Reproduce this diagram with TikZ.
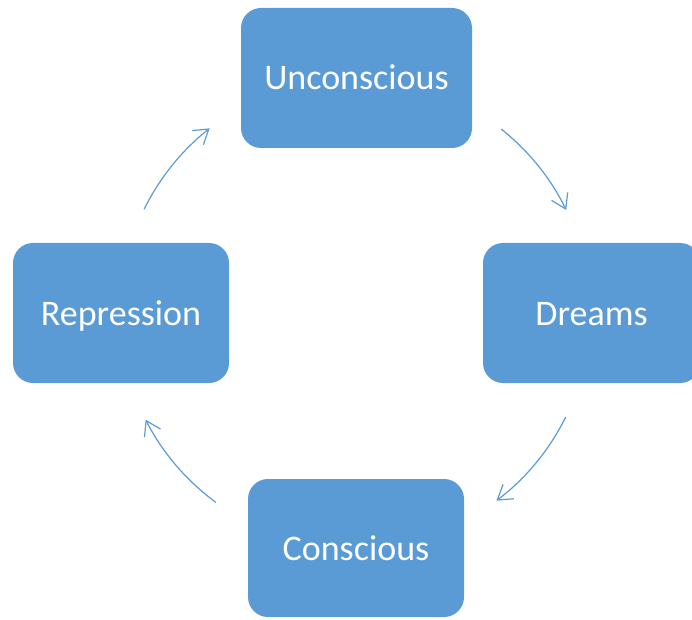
\documentclass[tikz,border=0pt]{standalone}
\usepackage{fontspec}
\setmainfont{Carlito}
\usetikzlibrary{arrows.meta,calc}
\definecolor{officeblue}{HTML}{5B9BD5}
\tikzset{
  stagebox/.style={rectangle, fill=officeblue, rounded corners=20pt, inner sep=0pt,
    minimum height=140pt, text=white, font=\fontsize{36}{40}\selectfont,
    text height=29pt, text depth=5pt},
  cyclearrow/.style={draw=officeblue, line width=1.2pt,
    -{Straight Barb[length=14pt,width=18pt,line width=1.2pt]}}
}
\begin{document}
\begin{tikzpicture}[x=1pt,y=1pt]
\useasboundingbox (0,0) rectangle (692,619);
\clip (0,0) rectangle (692,619);
\node[stagebox, minimum width=231pt] (U) at (356.5,541) {Unconscious};
\node[stagebox, minimum width=217pt] (D) at (591.5,306) {Dreams};
\node[stagebox, minimum width=216pt, minimum height=138pt] (C) at (356,71) {Conscious};
\node[stagebox, minimum width=216pt] (R) at (121,306) {Repression};
\coordinate (ctr) at (355,306);
\coordinate (a1) at ($(ctr)+(51.5:235pt)$);
\coordinate (a2) at ($(ctr)+(-26.3:235pt)$);
\coordinate (a3) at ($(ctr)+(233.7:235pt)$);
\coordinate (a4) at ($(ctr)+(153.8:235pt)$);
\draw[cyclearrow] (a1) arc[start angle=51.5, end angle=26, radius=235pt];
\draw[cyclearrow] (a2) arc[start angle=-26.3, end angle=-53, radius=235pt];
\draw[cyclearrow] (a3) arc[start angle=233.7, end angle=207, radius=235pt];
\draw[cyclearrow] (a4) arc[start angle=153.8, end angle=128.2, radius=235pt];
\end{tikzpicture}
\end{document}
